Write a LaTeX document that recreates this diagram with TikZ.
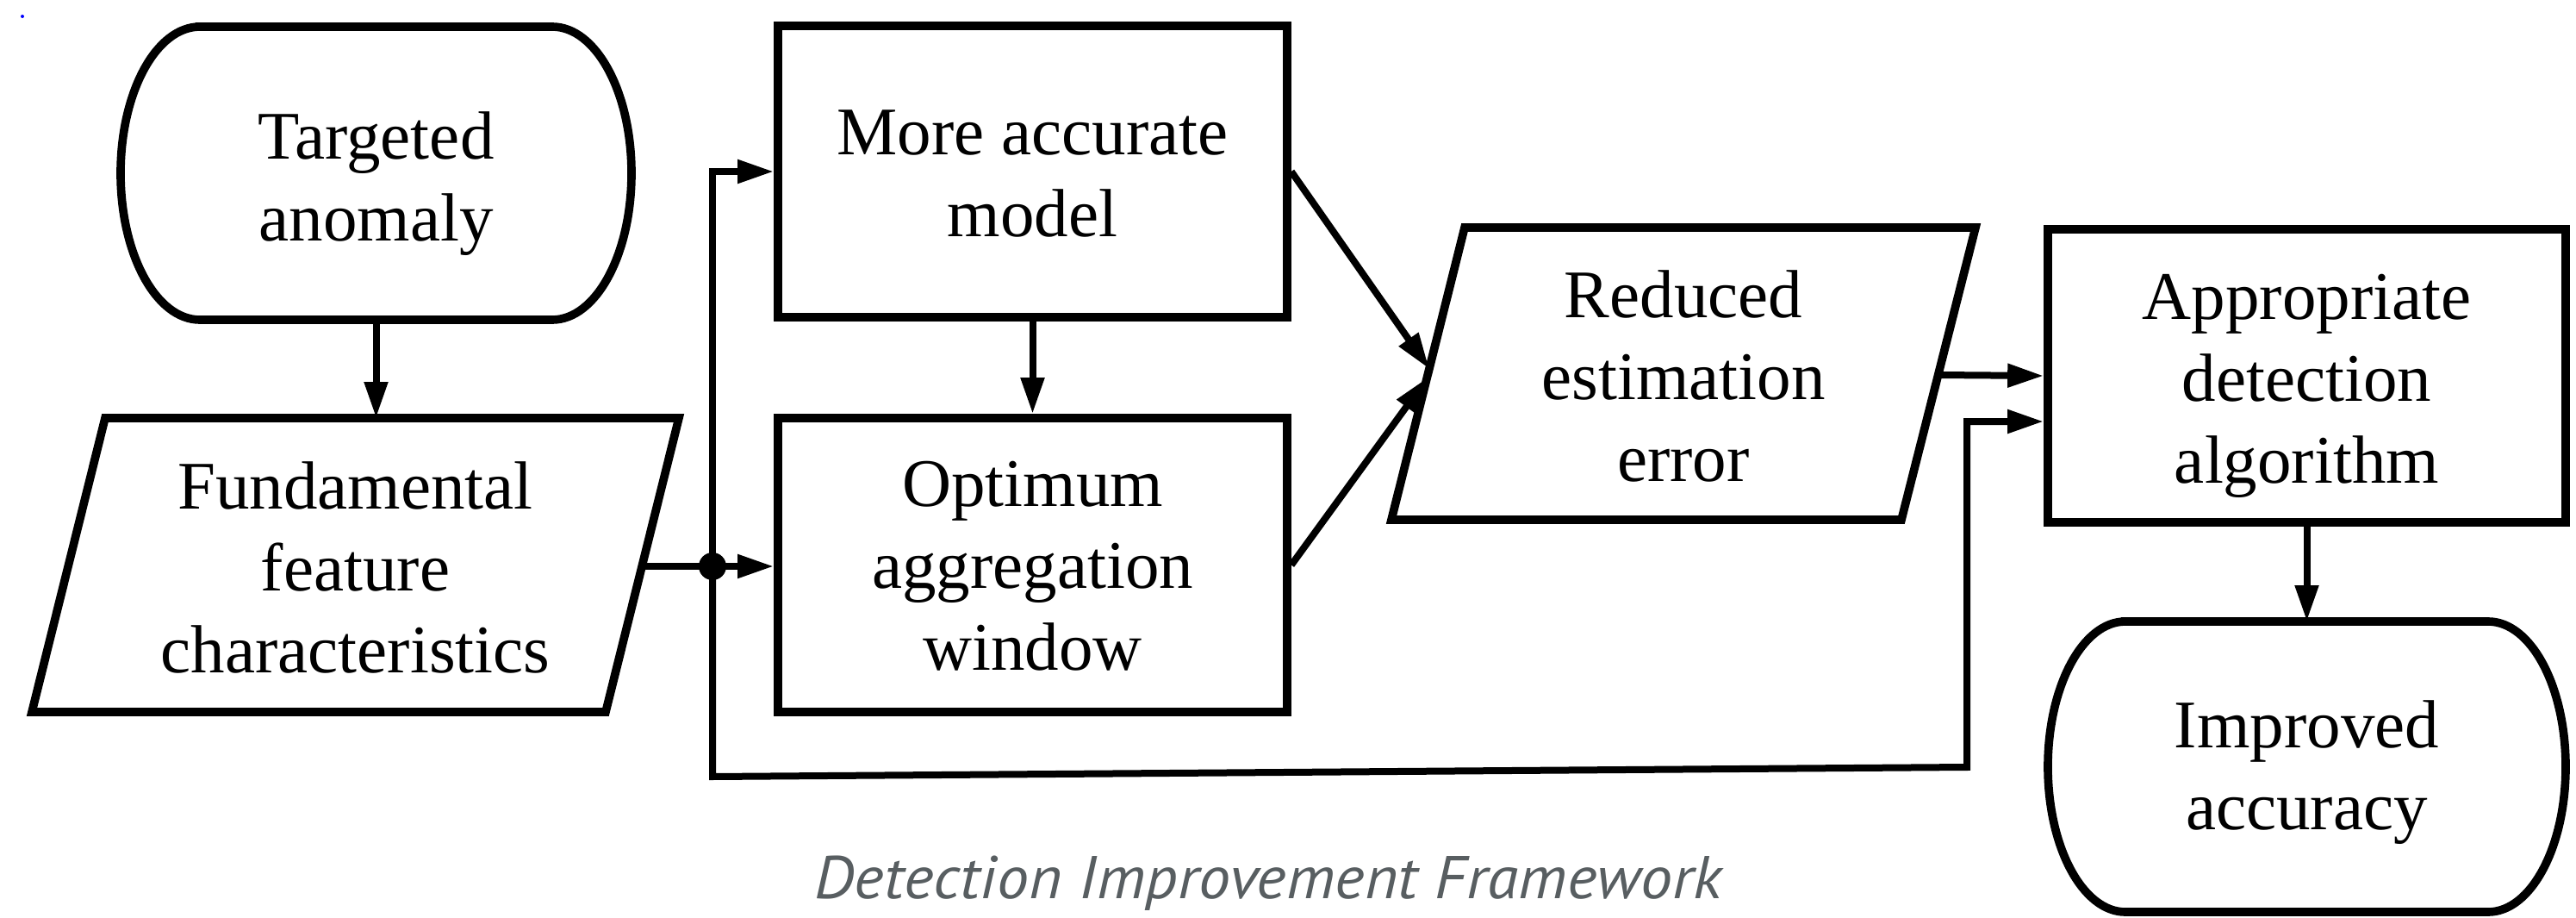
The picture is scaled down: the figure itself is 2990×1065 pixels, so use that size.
\documentclass[tikz,border=0pt]{standalone}
\usepackage{fontspec}
\setmainfont{Liberation Serif}
\newfontfamily\capfont{PT Sans}
\usetikzlibrary{arrows.meta}
\definecolor{capgray}{RGB}{88,94,97}
\begin{document}
\begin{tikzpicture}[x=0.3pt,y=-0.3pt,
  outline/.style={line width=2.9pt, line join=miter},
  boxnode/.style={draw, line width=2.9pt, inner sep=0pt, minimum width=177.3pt, align=center,
     font=\fontsize{23.7pt}{28.5pt}\selectfont},
  lbl/.style={align=center, inner sep=0pt, font=\fontsize{23.7pt}{28.5pt}\selectfont},
  conn/.style={line width=2.4pt, line join=miter},
  arr/.style={conn, -{Triangle[length=12.6pt,width=7.8pt]}},
]
\useasboundingbox (0,0) rectangle (2990,1065);
\fill[blue] (26,19) circle[radius=0.6pt];

% Targeted anomaly (terminator)
\draw[outline] (232,31) -- (641,31) arc[start angle=90,end angle=-90,x radius=27.6pt,y radius=51pt]
  -- (232,371) arc[start angle=270,end angle=90,x radius=27.6pt,y radius=51pt] -- cycle;
\node[lbl] (tgt) at (436.5,213) {Targeted\\anomaly};
\coordinate (tgt-s) at (436.5,371);

% Fundamental feature characteristics (parallelogram)
\draw[outline] (122,485) -- (788,485) -- (703,826) -- (37,826) -- cycle;
\node[lbl] (fund) at (412.5,658) {Fundamental\\feature\\characteristics};
\coordinate (fund-n) at (436.5,485);
\coordinate (fund-e) at (745,657);

% More accurate model
\node[boxnode, minimum height=101.4pt] (acc) at (1198.5,199) {};
\node[lbl] (acct) at (1198.5,202) {More accurate\\model};
% Optimum aggregation window
\node[boxnode, minimum height=102.3pt] (opt) at (1198.5,655.5) {};
\node[lbl] (optt) at (1198.5,657) {Optimum\\aggregation\\window};

% Reduced estimation error (parallelogram)
\draw[outline] (1700,264) -- (2293,264) -- (2207,603) -- (1615,603) -- cycle;
\node[lbl] (red) at (1954,436) {Reduced\\estimation\\error};
\coordinate (red-w1) at (1659,428);
\coordinate (red-w2) at (1657,438);
\coordinate (red-e) at (2250,435);

% Appropriate detection algorithm
\node[boxnode, minimum width=180.3pt, minimum height=102pt] (app) at (2677.5,436) {};
\node[lbl] (appt) at (2677.5,448) {Appropriate\\detection\\algorithm};

% Improved accuracy (terminator)
\draw[outline] (2467,721) -- (2888,721) arc[start angle=90,end angle=-90,x radius=27pt,y radius=50.55pt]
  -- (2467,1058) arc[start angle=270,end angle=90,x radius=27pt,y radius=50.55pt] -- cycle;
\node[lbl] (imp) at (2677.5,896) {Improved\\accuracy};
\coordinate (imp-n) at (2677.5,721);

% junction
\coordinate (j) at (827,657);
\coordinate (jb) at (827,901);
\coordinate (rb) at (2283,890);
\coordinate (rt) at (2283,489);

% connectors
\draw[arr] (tgt-s) -- (fund-n);
\draw[conn] (fund-e) -- (j);
\draw[arr] (j) -- (opt.west |- j);
\draw[arr] (j) |- (acc.west);
\draw[arr] (acc.south) -- (opt.north);
\draw[arr] (acc.east) -- (red-w1);
\draw[arr] (opt.east) -- (red-w2);
\draw[arr] (red-e) -- (app.west);
\draw[arr] (j) -- (jb) -- (rb) -- (rt) -- (app.west |- rt);
\draw[arr] (app.south) -- (imp-n);
\fill (j) circle[radius=4.8pt];

% caption
\node[anchor=base, text=capgray, inner sep=0pt] (cap) at (1472,1042)
  {\resizebox{315.9pt}{\height}{\capfont\itshape\fontsize{21pt}{25pt}\selectfont Detection Improvement Framework}};
\end{tikzpicture}
\end{document}
